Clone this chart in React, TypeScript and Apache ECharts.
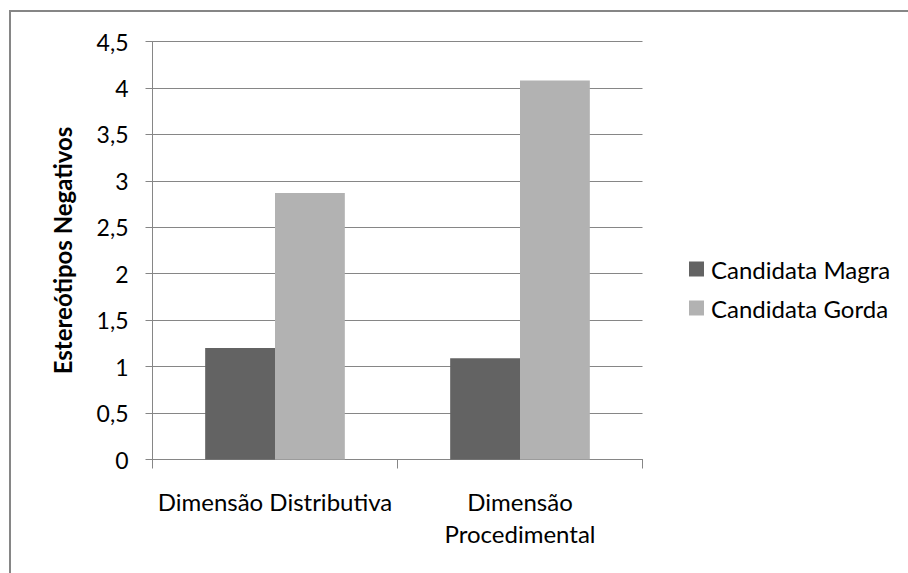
import React, { useEffect, useRef } from "react";
import * as echarts from "echarts";

const categories = ["Dimensão Distributiva", "Dimensão\nProcedimental"];
const seriesNames = ["Candidata Magra", "Candidata Gorda"];
const magraValues = [1.2, 1.09];
const gordaValues = [2.87, 4.08];
const yAxisTitle = "Estereótipos Negativos";
const yMin = 0;
const yMax = 4.5;
const yStep = 0.5;

const FONT = "Lato, 'Noto Sans', sans-serif";
const GRID = "#868686";
const FS = 24;

export default function App() {
  const ref = useRef<HTMLDivElement>(null);
  useEffect(() => {
    if (!ref.current) return;
    const chart = echarts.init(ref.current, undefined, { renderer: "svg" });
    chart.setOption({
      animation: false,
      backgroundColor: "#ffffff",
      textStyle: { fontFamily: FONT },
      graphic: [
        {
          type: "rect",
          shape: { x: 10, y: 11, width: 1000, height: 1000 },
          style: { fill: "none", stroke: GRID, lineWidth: 2 },
          silent: true,
        },
      ],
      grid: { left: 152.5, width: 490, top: 41.5, height: 418, containLabel: false },
      legend: {
        orient: "vertical",
        left: 684,
        top: 252,
        itemWidth: 15,
        itemHeight: 15,
        itemGap: 15,
        icon: "rect",
        textStyle: { fontFamily: FONT, fontSize: FS, color: "#000", lineHeight: 22, padding: [0, 0, 0, 2] },
        data: seriesNames,
      },
      xAxis: {
        type: "category",
        data: categories,
        axisLine: { lineStyle: { color: GRID, width: 1 } },
        axisTick: { show: true, length: 9, lineStyle: { color: GRID } },
        axisLabel: {
          fontFamily: FONT,
          fontSize: FS,
          color: "#000",
          lineHeight: 32,
          margin: 26,
          interval: 0,
          verticalAlign: "top",
        },
      },
      yAxis: {
        type: "value",
        min: yMin,
        max: yMax,
        interval: yStep,
        name: yAxisTitle,
        nameLocation: "middle",
        nameRotate: 90,
        nameGap: 78,
        nameTextStyle: { fontFamily: FONT, fontSize: 24, fontWeight: "bold", color: "#000" },
        axisLine: { show: true, lineStyle: { color: GRID, width: 1 } },
        axisTick: { show: true, length: 7, lineStyle: { color: GRID } },
        splitLine: { show: true, lineStyle: { color: GRID, width: 1 } },
        axisLabel: {
          fontFamily: FONT,
          fontSize: 23,
          color: "#000",
          margin: 24,
          formatter: (v: number) => String(v).replace(".", ","),
        },
      },
      series: [
        {
          name: seriesNames[0],
          type: "bar",
          data: magraValues,
          itemStyle: { color: "#636363" },
          barGap: "0%",
          barCategoryGap: "43%",
        },
        {
          name: seriesNames[1],
          type: "bar",
          data: gordaValues,
          itemStyle: { color: "#b2b2b2" },
          barGap: "0%",
          barCategoryGap: "43%",
        },
      ],
    });
    return () => chart.dispose();
  }, []);
  return (
    <div
      ref={ref}
      style={{ position: "absolute", left: 0, top: 0, width: 908, height: 573, background: "#fff" }}
    />
  );
}
